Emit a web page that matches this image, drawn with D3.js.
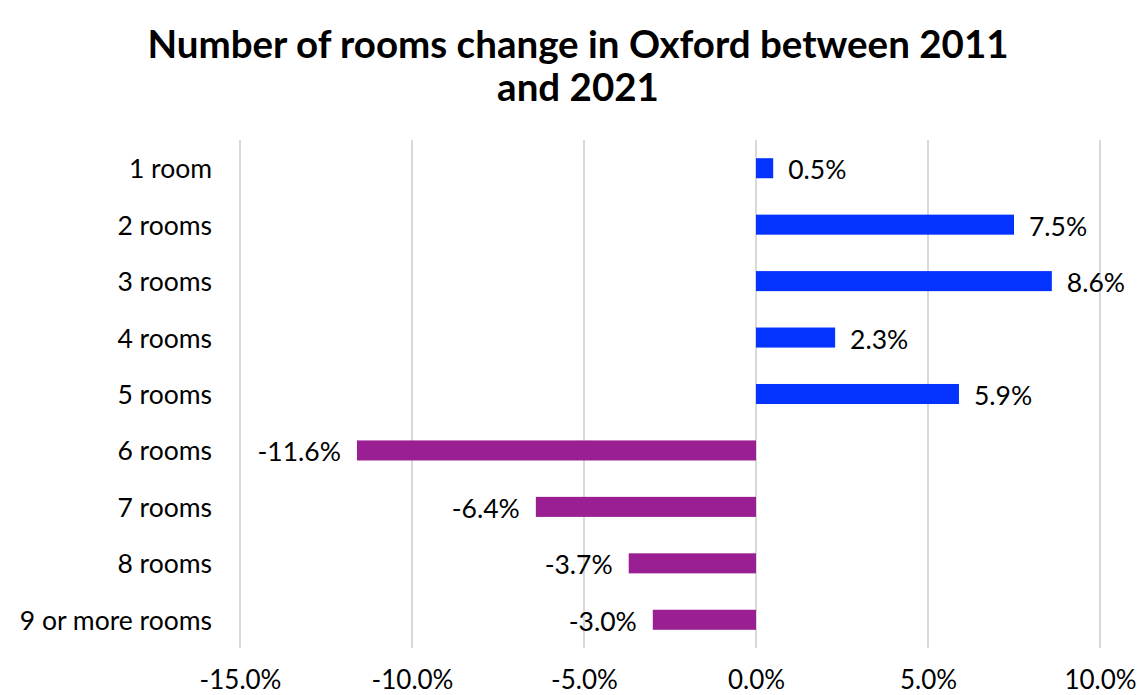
<!DOCTYPE html>
<html>
<head>
<meta charset="utf-8">
<script src="https://cdn.jsdelivr.net/npm/d3@7"></script>
<style>
  body { margin: 0; background: #fff; }
  text { font-family: Lato, "Open Sans", sans-serif; fill: #000; }
</style>
</head>
<body>
<svg width="1142" height="695"></svg>
<script>
const categories = ['1 room', '2 rooms', '3 rooms', '4 rooms', '5 rooms', '6 rooms', '7 rooms', '8 rooms', '9 or more rooms']
const changes = [0.5, 7.5, 8.6, 2.3, 5.9, -11.6, -6.4, -3.7, -3.0]
const tickValues = [-15, -10, -5, 0, 5, 10]
const titleLines = ['Number of rooms change in Oxford between 2011', 'and 2021']

const svg = d3.select('svg'),
  width = +svg.attr('width'),
  height = +svg.attr('height')

const margin = { top: 140, left: 240, right: 42, bottom: 47 }
const labelSize = '26.5px'

// scales
const x = d3.scaleLinear().domain([-15, 10]).range([margin.left, width - margin.right])
const y = d3.scaleBand().domain(categories).range([margin.top, height - margin.bottom]).paddingInner(0.645).paddingOuter(0.3225)

// title
svg.append('g')
  .selectAll('text')
  .data(titleLines)
  .join('text')
  .attr('x', 578)
  .attr('y', (d, i) => 43 + i * 43)
  .attr('text-anchor', 'middle')
  .attr('dominant-baseline', 'central')
  .style('font-size', '38.5px')
  .style('font-weight', 'bold')
  .text(d => d)

// gridlines
svg.append('g')
  .selectAll('line')
  .data(tickValues)
  .join('line')
  .attr('x1', d => x(d))
  .attr('x2', d => x(d))
  .attr('y1', margin.top)
  .attr('y2', height - margin.bottom)
  .attr('stroke', '#d9d9d9')
  .attr('stroke-width', 2)

// x axis labels
const xAxis = d3.axisBottom(x).tickValues(tickValues).tickSize(0).tickPadding(0).tickFormat(d => d.toFixed(1) + '%')
svg.append('g')
  .attr('transform', `translate(0, ${height - margin.bottom})`)
  .call(xAxis)
  .call(g => g.select('.domain').remove())
  .call(g => g.selectAll('text')
    .attr('y', 31)
    .attr('dy', null)
    .attr('dominant-baseline', 'central')
    .style('font-size', '26px')
    .style('font-family', 'Lato, "Open Sans", sans-serif'))

// y axis labels
const yAxis = d3.axisLeft(y).tickSize(0).tickPadding(28)
svg.append('g')
  .attr('transform', `translate(${margin.left}, 0)`)
  .call(yAxis)
  .call(g => g.select('.domain').remove())
  .call(g => g.selectAll('text')
    .attr('dy', null)
    .attr('dominant-baseline', 'central')
    .style('font-size', labelSize)
    .style('font-family', 'Lato, "Open Sans", sans-serif'))

// bars
const rows = categories.map((c, i) => ({ cat: c, val: changes[i] }))
svg.append('g')
  .selectAll('rect')
  .data(rows)
  .join('rect')
  .attr('x', d => Math.min(x(0), x(d.val)))
  .attr('y', d => y(d.cat))
  .attr('width', d => Math.abs(x(d.val) - x(0)))
  .attr('height', y.bandwidth())
  .attr('fill', d => d.val >= 0 ? '#0433ff' : '#9a1f92')

// value labels
svg.append('g')
  .selectAll('text')
  .data(rows)
  .join('text')
  .attr('x', d => d.val >= 0 ? x(d.val) + 15 : x(d.val) - 16)
  .attr('y', d => y(d.cat) + y.bandwidth() / 2 + 1)
  .attr('text-anchor', d => d.val >= 0 ? 'start' : 'end')
  .attr('dominant-baseline', 'central')
  .style('font-size', labelSize)
  .text(d => d.val.toFixed(1) + '%')
</script>
</body>
</html>
